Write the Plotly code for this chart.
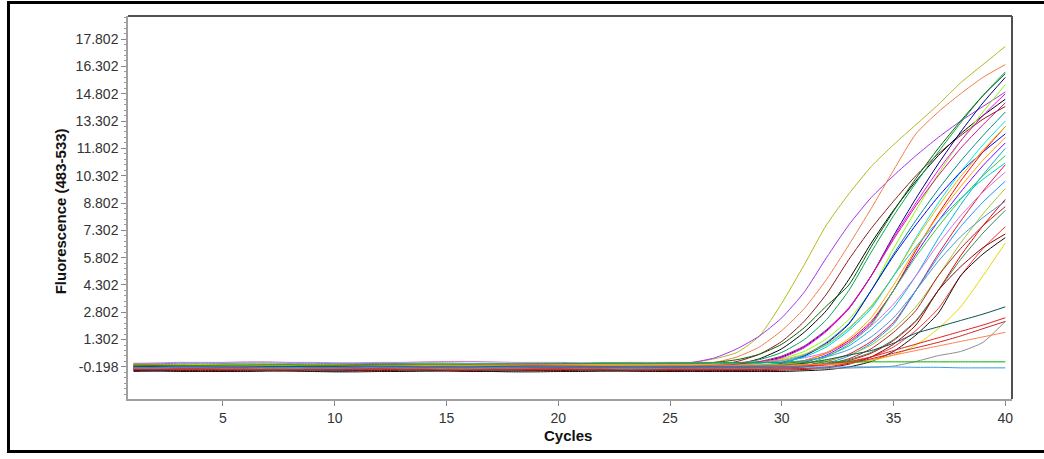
import plotly.graph_objects as go

# Amplification curves: fluorescence (483-533) per cycle, one list per sample
cycles = list(range(1, 41))
x_ticks = [5, 10, 15, 20, 25, 30, 35, 40]
y_ticks = [-0.198, 1.302, 2.802, 4.302, 5.802, 7.302, 8.802, 10.302,
           11.802, 13.302, 14.802, 16.302, 17.802]
y_tick_labels = ["-0.198", "1.302", "2.802", "4.302", "5.802", "7.302", "8.802",
                 "10.302", "11.802", "13.302", "14.802", "16.302", "17.802"]

s01 = [-0.05, -0.10, -0.12, -0.15, -0.15, -0.14, -0.12, -0.10, -0.10, -0.12,
       -0.14, -0.15, -0.15, -0.13, -0.10, -0.10, -0.12, -0.14, -0.15, -0.15,
       -0.13, -0.10, -0.08, -0.05, -0.02, 0.05, 0.25, 0.60, 1.50, 3.30,
       5.40, 7.60, 9.30, 10.80, 12.00, 13.10, 14.20, 15.40, 16.40, 17.40]
s02 = [-0.15, -0.20, -0.20, -0.18, -0.15, -0.15, -0.12, -0.10, -0.10, -0.10,
       -0.12, -0.15, -0.15, -0.15, -0.12, -0.12, -0.10, -0.10, -0.12, -0.12,
       -0.10, -0.10, -0.10, -0.08, -0.05, 0.05, 0.30, 0.80, 1.50, 2.50,
       3.90, 5.80, 7.60, 9.10, 10.30, 11.40, 12.40, 13.30, 14.10, 14.90]
s03 = [-0.25, -0.25, -0.22, -0.20, -0.20, -0.22, -0.25, -0.25, -0.22, -0.20,
       -0.20, -0.18, -0.18, -0.20, -0.22, -0.20, -0.20, -0.22, -0.22, -0.20,
       -0.20, -0.20, -0.18, -0.16, -0.14, -0.10, 0.05, 0.35, 0.90, 1.80,
       3.00, 4.60, 6.50, 8.50, 10.60, 12.60, 13.80, 14.80, 15.70, 16.40]
s04 = [-0.30, -0.30, -0.28, -0.25, -0.25, -0.25, -0.22, -0.20, -0.20, -0.22,
       -0.25, -0.25, -0.28, -0.28, -0.25, -0.25, -0.22, -0.25, -0.25, -0.27,
       -0.27, -0.25, -0.25, -0.24, -0.22, -0.19, -0.10, 0.10, 0.50, 1.20,
       2.30, 3.80, 5.70, 7.40, 8.90, 10.30, 11.50, 12.50, 13.40, 14.10]
s05 = [-0.35, -0.30, -0.30, -0.32, -0.30, -0.28, -0.28, -0.30, -0.32, -0.32,
       -0.30, -0.30, -0.28, -0.30, -0.30, -0.33, -0.33, -0.30, -0.30, -0.30,
       -0.28, -0.28, -0.30, -0.30, -0.30, -0.26, -0.20, -0.05, 0.25, 0.80,
       1.70, 2.90, 4.60, 6.60, 8.40, 10.00, 11.40, 12.60, 13.60, 14.50]
s06 = [-0.10, -0.12, -0.15, -0.15, -0.18, -0.18, -0.15, -0.15, -0.12, -0.12,
       -0.15, -0.15, -0.15, -0.18, -0.18, -0.15, -0.15, -0.12, -0.15, -0.15,
       -0.18, -0.15, -0.15, -0.15, -0.15, -0.13, -0.09, 0.00, 0.20, 0.60,
       1.30, 2.40, 4.00, 6.10, 8.10, 9.90, 11.60, 13.20, 14.70, 16.00]
s07 = [-0.20, -0.15, -0.10, -0.10, -0.05, -0.05, -0.08, -0.10, -0.10, -0.05,
       -0.05, -0.02, -0.02, -0.05, -0.05, -0.08, -0.08, -0.05, -0.05, -0.05,
       -0.03, -0.03, -0.05, -0.05, -0.04, -0.01, 0.05, 0.20, 0.50, 1.05,
       1.95, 3.15, 4.30, 6.40, 8.35, 10.15, 11.80, 13.30, 14.70, 15.90]
s08 = [-0.20, -0.22, -0.22, -0.20, -0.20, -0.18, -0.18, -0.20, -0.22, -0.22,
       -0.20, -0.20, -0.20, -0.22, -0.20, -0.18, -0.18, -0.20, -0.20, -0.22,
       -0.22, -0.20, -0.20, -0.20, -0.20, -0.19, -0.16, -0.10, 0.05, 0.35,
       0.90, 1.80, 3.00, 4.80, 7.00, 9.05, 10.95, 12.70, 14.30, 15.70]
s09 = [0.00, -0.05, -0.10, -0.12, -0.12, -0.10, -0.10, -0.08, -0.08, -0.10,
       -0.10, -0.12, -0.12, -0.10, -0.10, -0.10, -0.08, -0.08, -0.10, -0.12,
       -0.10, -0.10, -0.10, -0.10, -0.10, -0.10, -0.08, -0.04, 0.05, 0.25,
       0.65, 1.35, 2.40, 4.00, 6.30, 8.40, 10.40, 12.20, 13.80, 15.30]
s10 = [-0.30, -0.28, -0.25, -0.25, -0.25, -0.22, -0.22, -0.25, -0.27, -0.27,
       -0.25, -0.25, -0.23, -0.23, -0.25, -0.27, -0.27, -0.25, -0.25, -0.22,
       -0.22, -0.25, -0.25, -0.25, -0.25, -0.24, -0.21, -0.15, 0.00, 0.30,
       0.85, 1.75, 3.00, 4.80, 6.90, 8.80, 10.60, 12.20, 13.60, 14.80]
s11 = [-0.25, -0.25, -0.28, -0.30, -0.30, -0.30, -0.32, -0.32, -0.30, -0.30,
       -0.28, -0.28, -0.30, -0.30, -0.30, -0.32, -0.32, -0.30, -0.30, -0.30,
       -0.28, -0.28, -0.30, -0.30, -0.30, -0.30, -0.28, -0.24, -0.15, 0.05,
       0.45, 1.15, 2.20, 4.00, 6.00, 7.85, 9.55, 11.10, 12.50, 13.80]
s12 = [-0.15, -0.12, -0.10, -0.10, -0.08, -0.08, -0.10, -0.12, -0.12, -0.10,
       -0.10, -0.08, -0.08, -0.10, -0.10, -0.12, -0.12, -0.10, -0.08, -0.08,
       -0.10, -0.10, -0.12, -0.10, -0.10, -0.10, -0.10, -0.06, 0.00, 0.15,
       0.45, 1.00, 1.90, 3.10, 4.80, 6.90, 8.80, 10.50, 12.00, 13.30]
s13 = [-0.30, -0.32, -0.35, -0.35, -0.35, -0.38, -0.38, -0.35, -0.35, -0.42,
       -0.40, -0.35, -0.35, -0.33, -0.33, -0.35, -0.35, -0.37, -0.37, -0.35,
       -0.35, -0.35, -0.33, -0.33, -0.35, -0.35, -0.33, -0.29, -0.20, 0.00,
       0.40, 1.10, 2.15, 4.00, 5.90, 7.60, 9.15, 10.50, 11.60, 12.60]
s14 = [-0.30, -0.25, -0.20, -0.20, -0.22, -0.22, -0.25, -0.20, -0.20, -0.25,
       -0.28, -0.30, -0.30, -0.25, -0.22, -0.22, -0.20, -0.25, -0.30, -0.30,
       -0.25, -0.22, -0.22, -0.25, -0.25, -0.22, -0.20, -0.18, -0.14, -0.05,
       0.15, 0.55, 1.25, 2.30, 4.00, 6.20, 8.20, 10.00, 11.60, 13.00]
s15 = [-0.10, -0.08, -0.05, -0.05, -0.05, -0.03, -0.03, -0.05, -0.05, -0.08,
       -0.08, -0.05, -0.05, -0.02, -0.02, -0.05, -0.05, -0.05, -0.08, -0.08,
       -0.05, -0.05, -0.03, -0.03, -0.05, -0.05, -0.05, -0.01, 0.05, 0.20,
       0.50, 1.05, 1.95, 3.15, 4.80, 6.80, 8.60, 10.25, 11.70, 13.00]
s16 = [-0.35, -0.33, -0.30, -0.30, -0.30, -0.28, -0.28, -0.30, -0.32, -0.32,
       -0.30, -0.30, -0.28, -0.28, -0.30, -0.30, -0.32, -0.32, -0.30, -0.30,
       -0.30, -0.28, -0.28, -0.30, -0.30, -0.30, -0.30, -0.28, -0.24, -0.15,
       0.05, 0.45, 1.15, 2.20, 4.00, 6.00, 7.80, 9.40, 10.85, 12.10]
s17 = [-0.20, -0.20, -0.18, -0.15, -0.15, -0.15, -0.13, -0.13, -0.15, -0.17,
       -0.17, -0.15, -0.15, -0.15, -0.13, -0.13, -0.15, -0.15, -0.17, -0.15,
       -0.15, -0.13, -0.13, -0.15, -0.15, -0.15, -0.15, -0.15, -0.11, -0.05,
       0.10, 0.40, 0.95, 1.85, 3.05, 4.80, 6.85, 8.70, 10.35, 11.80]
s18 = [-0.35, -0.38, -0.40, -0.40, -0.42, -0.42, -0.40, -0.40, -0.38, -0.38,
       -0.40, -0.40, -0.42, -0.42, -0.40, -0.40, -0.40, -0.38, -0.38, -0.40,
       -0.40, -0.42, -0.42, -0.40, -0.40, -0.40, -0.40, -0.38, -0.34, -0.25,
       -0.05, 0.35, 1.05, 2.10, 4.00, 5.85, 7.50, 9.00, 10.30, 11.40]
s19 = [-0.20, -0.22, -0.25, -0.25, -0.25, -0.27, -0.27, -0.25, -0.25, -0.23,
       -0.23, -0.25, -0.25, -0.27, -0.30, -0.30, -0.27, -0.25, -0.25, -0.23,
       -0.23, -0.25, -0.25, -0.25, -0.25, -0.25, -0.25, -0.25, -0.23, -0.19,
       -0.10, 0.10, 0.50, 1.20, 2.25, 4.00, 6.00, 7.80, 9.45, 10.90]
s20 = [0.00, 0.02, 0.05, 0.05, 0.05, 0.08, 0.08, 0.05, 0.05, 0.03,
       0.03, 0.05, 0.05, 0.08, 0.10, 0.10, 0.08, 0.05, 0.05, 0.05,
       0.03, 0.03, 0.05, 0.05, 0.05, 0.05, 0.05, 0.05, 0.09, 0.15,
       0.30, 0.60, 1.15, 2.05, 3.25, 4.80, 6.55, 8.10, 9.40, 10.50]
s21 = [-0.40, -0.40, -0.38, -0.35, -0.35, -0.35, -0.33, -0.33, -0.35, -0.37,
       -0.37, -0.35, -0.35, -0.33, -0.33, -0.35, -0.35, -0.37, -0.37, -0.35,
       -0.35, -0.33, -0.35, -0.35, -0.35, -0.35, -0.35, -0.35, -0.33, -0.29,
       -0.20, 0.00, 0.40, 1.10, 2.15, 4.00, 5.85, 7.50, 8.85, 10.00]
s22 = [-0.05, -0.08, -0.10, -0.10, -0.12, -0.12, -0.10, -0.10, -0.08, -0.08,
       -0.10, -0.10, -0.12, -0.12, -0.10, -0.10, -0.08, -0.08, -0.10, -0.10,
       -0.12, -0.10, -0.10, -0.10, -0.08, -0.08, -0.10, -0.10, -0.10, -0.06,
       0.00, 0.15, 0.45, 1.00, 1.90, 3.10, 4.80, 6.60, 8.20, 9.60]
s23 = [-0.15, -0.18, -0.20, -0.20, -0.20, -0.22, -0.22, -0.20, -0.20, -0.18,
       -0.18, -0.20, -0.20, -0.22, -0.22, -0.20, -0.20, -0.18, -0.18, -0.20,
       -0.20, -0.22, -0.22, -0.20, -0.20, -0.20, -0.20, -0.20, -0.20, -0.18,
       -0.14, -0.05, 0.15, 0.55, 1.25, 2.30, 4.00, 5.90, 7.55, 9.00]
s24 = [-0.25, -0.28, -0.30, -0.30, -0.30, -0.32, -0.32, -0.30, -0.30, -0.28,
       -0.28, -0.30, -0.30, -0.30, -0.32, -0.32, -0.30, -0.30, -0.28, -0.28,
       -0.30, -0.30, -0.30, -0.30, -0.30, -0.30, -0.30, -0.27, -0.22, -0.12,
       0.12, 0.58, 1.35, 2.50, 4.30, 6.30, 8.10, 9.70, 11.15, 12.40]
s25 = [-0.35, -0.33, -0.30, -0.30, -0.28, -0.28, -0.30, -0.30, -0.32, -0.32,
       -0.30, -0.30, -0.28, -0.28, -0.30, -0.30, -0.30, -0.32, -0.32, -0.30,
       -0.30, -0.28, -0.28, -0.30, -0.30, -0.30, -0.30, -0.30, -0.30, -0.26,
       -0.20, -0.05, 0.25, 0.80, 1.70, 2.90, 4.80, 6.30, 7.55, 8.60]
s26 = [-0.05, -0.03, 0.00, 0.00, 0.00, 0.02, 0.02, 0.00, 0.00, -0.02,
       -0.02, 0.00, 0.00, 0.02, 0.02, 0.00, 0.00, -0.02, -0.02, 0.00,
       0.00, 0.02, 0.02, 0.00, 0.00, 0.00, 0.00, 0.00, 0.02, 0.06,
       0.15, 0.35, 0.75, 1.45, 2.50, 4.00, 5.60, 6.95, 8.00, 8.90]
s27 = [-0.10, -0.12, -0.15, -0.15, -0.15, -0.17, -0.17, -0.15, -0.15, -0.13,
       -0.13, -0.15, -0.15, -0.17, -0.17, -0.15, -0.15, -0.13, -0.13, -0.15,
       -0.15, -0.17, -0.17, -0.15, -0.15, -0.15, -0.15, -0.15, -0.15, -0.13,
       -0.09, 0.00, 0.20, 0.60, 1.30, 2.35, 4.00, 5.70, 7.15, 8.40]
s28 = [-0.25, -0.25, -0.22, -0.20, -0.20, -0.20, -0.18, -0.18, -0.20, -0.22,
       -0.22, -0.20, -0.20, -0.18, -0.18, -0.20, -0.20, -0.22, -0.22, -0.20,
       -0.20, -0.18, -0.18, -0.20, -0.20, -0.20, -0.20, -0.20, -0.20, -0.20,
       -0.16, -0.10, 0.05, 0.35, 0.90, 1.80, 3.00, 4.80, 6.30, 7.50]
s29 = [-0.45, -0.42, -0.40, -0.40, -0.40, -0.38, -0.38, -0.40, -0.42, -0.42,
       -0.40, -0.40, -0.38, -0.38, -0.40, -0.40, -0.42, -0.42, -0.40, -0.40,
       -0.38, -0.38, -0.40, -0.40, -0.40, -0.40, -0.40, -0.40, -0.40, -0.38,
       -0.34, -0.25, -0.05, 0.35, 1.05, 2.10, 4.00, 5.30, 6.35, 7.10]
s30 = [-0.40, -0.42, -0.45, -0.45, -0.45, -0.45, -0.43, -0.43, -0.45, -0.47,
       -0.47, -0.45, -0.45, -0.43, -0.43, -0.45, -0.45, -0.47, -0.47, -0.45,
       -0.45, -0.43, -0.43, -0.45, -0.45, -0.45, -0.45, -0.45, -0.45, -0.45,
       -0.41, -0.35, -0.20, 0.10, 0.65, 1.55, 2.75, 4.80, 6.00, 6.90]
s31 = [-0.12, -0.10, -0.10, -0.08, -0.08, -0.10, -0.10, -0.12, -0.12, -0.10,
       -0.10, -0.08, -0.08, -0.10, -0.10, -0.12, -0.12, -0.10, -0.10, -0.08,
       -0.08, -0.10, -0.10, -0.10, -0.10, -0.10, -0.10, -0.10, -0.10, -0.10,
       -0.10, -0.06, 0.00, 0.15, 0.45, 1.00, 1.90, 3.10, 4.80, 6.60]
s32 = [-0.25, -0.22, -0.20, -0.20, -0.20, -0.18, -0.18, -0.20, -0.22, -0.22,
       -0.20, -0.20, -0.18, -0.18, -0.20, -0.20, -0.22, -0.22, -0.20, -0.20,
       -0.18, -0.18, -0.20, -0.20, -0.20, -0.20, -0.20, -0.16, -0.10, 0.05,
       0.35, 0.90, 1.80, 3.00, 4.80, 6.40, 7.80, 9.05, 10.10, 11.00]
s33 = [-0.10, -0.12, -0.15, -0.15, -0.15, -0.17, -0.17, -0.15, -0.15, -0.13,
       -0.13, -0.15, -0.15, -0.17, -0.17, -0.15, -0.15, -0.13, -0.13, -0.15,
       -0.15, -0.17, -0.17, -0.15, -0.15, -0.15, -0.11, -0.05, 0.10, 0.40,
       0.95, 1.85, 3.05, 4.80, 6.80, 8.65, 10.30, 11.80, 13.10, 14.30]
s34 = [-0.20, -0.20, -0.22, -0.22, -0.20, -0.20, -0.18, -0.18, -0.20, -0.20,
       -0.22, -0.22, -0.20, -0.20, -0.18, -0.20, -0.20, -0.22, -0.20, -0.20,
       -0.18, -0.18, -0.20, -0.20, -0.20, -0.18, -0.17, -0.16, -0.15, -0.10,
       0.00, 0.20, 0.45, 0.70, 1.10, 1.65, 2.00, 2.35, 2.70, 3.10]
s35 = [-0.28, -0.28, -0.25, -0.25, -0.25, -0.23, -0.23, -0.25, -0.27, -0.27,
       -0.25, -0.25, -0.23, -0.23, -0.25, -0.25, -0.27, -0.27, -0.25, -0.25,
       -0.23, -0.23, -0.25, -0.25, -0.25, -0.25, -0.25, -0.24, -0.22, -0.20,
       -0.15, -0.05, 0.10, 0.35, 0.70, 1.05, 1.40, 1.75, 2.10, 2.50]
s36 = [-0.30, -0.30, -0.32, -0.32, -0.30, -0.30, -0.28, -0.28, -0.30, -0.30,
       -0.32, -0.32, -0.30, -0.30, -0.28, -0.28, -0.30, -0.30, -0.32, -0.32,
       -0.30, -0.30, -0.28, -0.28, -0.30, -0.30, -0.30, -0.30, -0.30, -0.30,
       -0.29, -0.28, -0.26, -0.22, -0.15, 0.10, 0.42, 0.65, 1.15, 2.30]
s37 = [-0.05, -0.05, -0.08, -0.10, -0.10, -0.10, -0.12, -0.12, -0.10, -0.10,
       -0.08, -0.08, -0.10, -0.10, -0.12, -0.12, -0.10, -0.10, -0.08, -0.08,
       -0.10, -0.10, -0.12, -0.12, -0.10, -0.10, -0.10, -0.10, -0.10, -0.10,
       -0.08, -0.05, 0.00, 0.20, 0.45, 0.70, 0.95, 1.20, 1.45, 1.70]
s38 = [-0.35, -0.35, -0.33, -0.33, -0.35, -0.35, -0.37, -0.37, -0.35, -0.35,
       -0.33, -0.33, -0.35, -0.35, -0.37, -0.37, -0.35, -0.35, -0.33, -0.33,
       -0.35, -0.35, -0.37, -0.37, -0.35, -0.35, -0.35, -0.35, -0.34, -0.32,
       -0.28, -0.20, 0.00, 0.25, 0.55, 0.85, 1.15, 1.50, 1.90, 2.30]
s39 = [-0.10, -0.10, -0.12, -0.12, -0.10, -0.10, -0.08, -0.08, -0.10, -0.10,
       -0.08, -0.06, -0.06, -0.05, -0.05, -0.05, -0.04, -0.04, -0.03, -0.02,
       -0.02, 0.00, 0.00, 0.00, 0.02, 0.02, 0.03, 0.04, 0.05, 0.06,
       0.07, 0.08, 0.08, 0.08, 0.08, 0.08, 0.08, 0.08, 0.08, 0.08]
s40 = [-0.25, -0.25, -0.22, -0.22, -0.20, -0.20, -0.22, -0.22, -0.25, -0.25,
       -0.25, -0.22, -0.22, -0.20, -0.20, -0.20, -0.22, -0.22, -0.20, -0.20,
       -0.20, -0.20, -0.20, -0.20, -0.20, -0.20, -0.20, -0.20, -0.20, -0.20,
       -0.20, -0.20, -0.20, -0.20, -0.20, -0.22, -0.22, -0.25, -0.25, -0.25]

samples = [s01, s02, s03, s04, s05, s06, s07, s08, s09, s10,
           s11, s12, s13, s14, s15, s16, s17, s18, s19, s20,
           s21, s22, s23, s24, s25, s26, s27, s28, s29, s30,
           s31, s32, s33, s34, s35, s36, s37, s38, s39, s40]

line_colors = ["#b5b81e", "#a335ee", "#f27d4a", "#8b1c1c", "#000000",
               "#00a651", "#006400", "#000080", "#7fff00", "#ff00ff",
               "#008b8b", "#00e5ee", "#0000ff", "#ff0000", "#e6b800",
               "#7f00ff", "#00b2ee", "#32cd32", "#dc143c", "#da70d6",
               "#1e90ff", "#9acd32", "#ee0000", "#ffa500", "#b22222",
               "#4f94cd", "#2e8b57", "#ff3030", "#8b0000", "#111111",
               "#e8d800", "#00ced1", "#c71585", "#0b4f4f", "#e02020",
               "#8c8c8c", "#ff7f50", "#cd2626", "#00b000", "#3399ee"]

fig = go.Figure()
for vals, col in zip(samples, line_colors):
    fig.add_trace(go.Scatter(x=cycles, y=vals, mode="lines",
                             line=dict(color=col, width=1, shape="spline", smoothing=0.6),
                             hoverinfo="skip"))

tick_font = dict(family="Liberation Sans, Arial, sans-serif", size=14, color="#333333")
title_font = dict(family="Liberation Sans, Arial, sans-serif", size=15, color="#111111")

fig.update_layout(
    width=1044, height=459,
    margin=dict(l=128, r=32, t=16, b=60),
    paper_bgcolor="white", plot_bgcolor="white",
    showlegend=False,
)
fig.update_xaxes(
    range=[0.75, 40.3], tickmode="array", tickvals=x_ticks,
    ticks="outside", ticklen=5, tickcolor="#888888", tickfont=tick_font,
    showline=True, linecolor="#a0a0a0", linewidth=1.5,
    showgrid=False, zeroline=False,
)
fig.update_yaxes(
    range=[-1.96, 19.07], tickmode="array", tickvals=y_ticks, ticktext=y_tick_labels,
    ticks="outside", ticklen=5, tickcolor="#888888", tickfont=tick_font,
    showline=True, linecolor="#a0a0a0", linewidth=1.5,
    showgrid=False, zeroline=False,
    minor=dict(tickmode="linear", tick0=-0.198, dtick=0.3, ticks="outside",
               ticklen=2, tickcolor="#999999"),
)

# darker top and right edges of the plotting box
fig.add_shape(type="line", xref="paper", yref="paper", x0=0, x1=1, y0=1, y1=1,
              line=dict(color="#505050", width=2))
fig.add_shape(type="line", xref="paper", yref="paper", x0=1, x1=1, y0=0, y1=1,
              line=dict(color="#505050", width=2))
# outer frame around the whole panel
fig.add_shape(type="rect", xref="paper", yref="paper",
              x0=-0.1352, x1=1.06, y0=-0.1371, y1=1.0352,
              line=dict(color="black", width=3), layer="below")

fig.add_annotation(text="<b>Cycles</b>", xref="paper", yref="paper",
                   x=0.4977, y=-0.0966, showarrow=False, font=title_font,
                   xanchor="center", yanchor="middle")
fig.add_annotation(text="<b>Fluorescence (483-533)</b>", xref="paper", yref="paper",
                   x=-0.0769, y=0.49, showarrow=False, font=title_font,
                   textangle=-90, xanchor="center", yanchor="middle")

fig.write_html("out.html")
